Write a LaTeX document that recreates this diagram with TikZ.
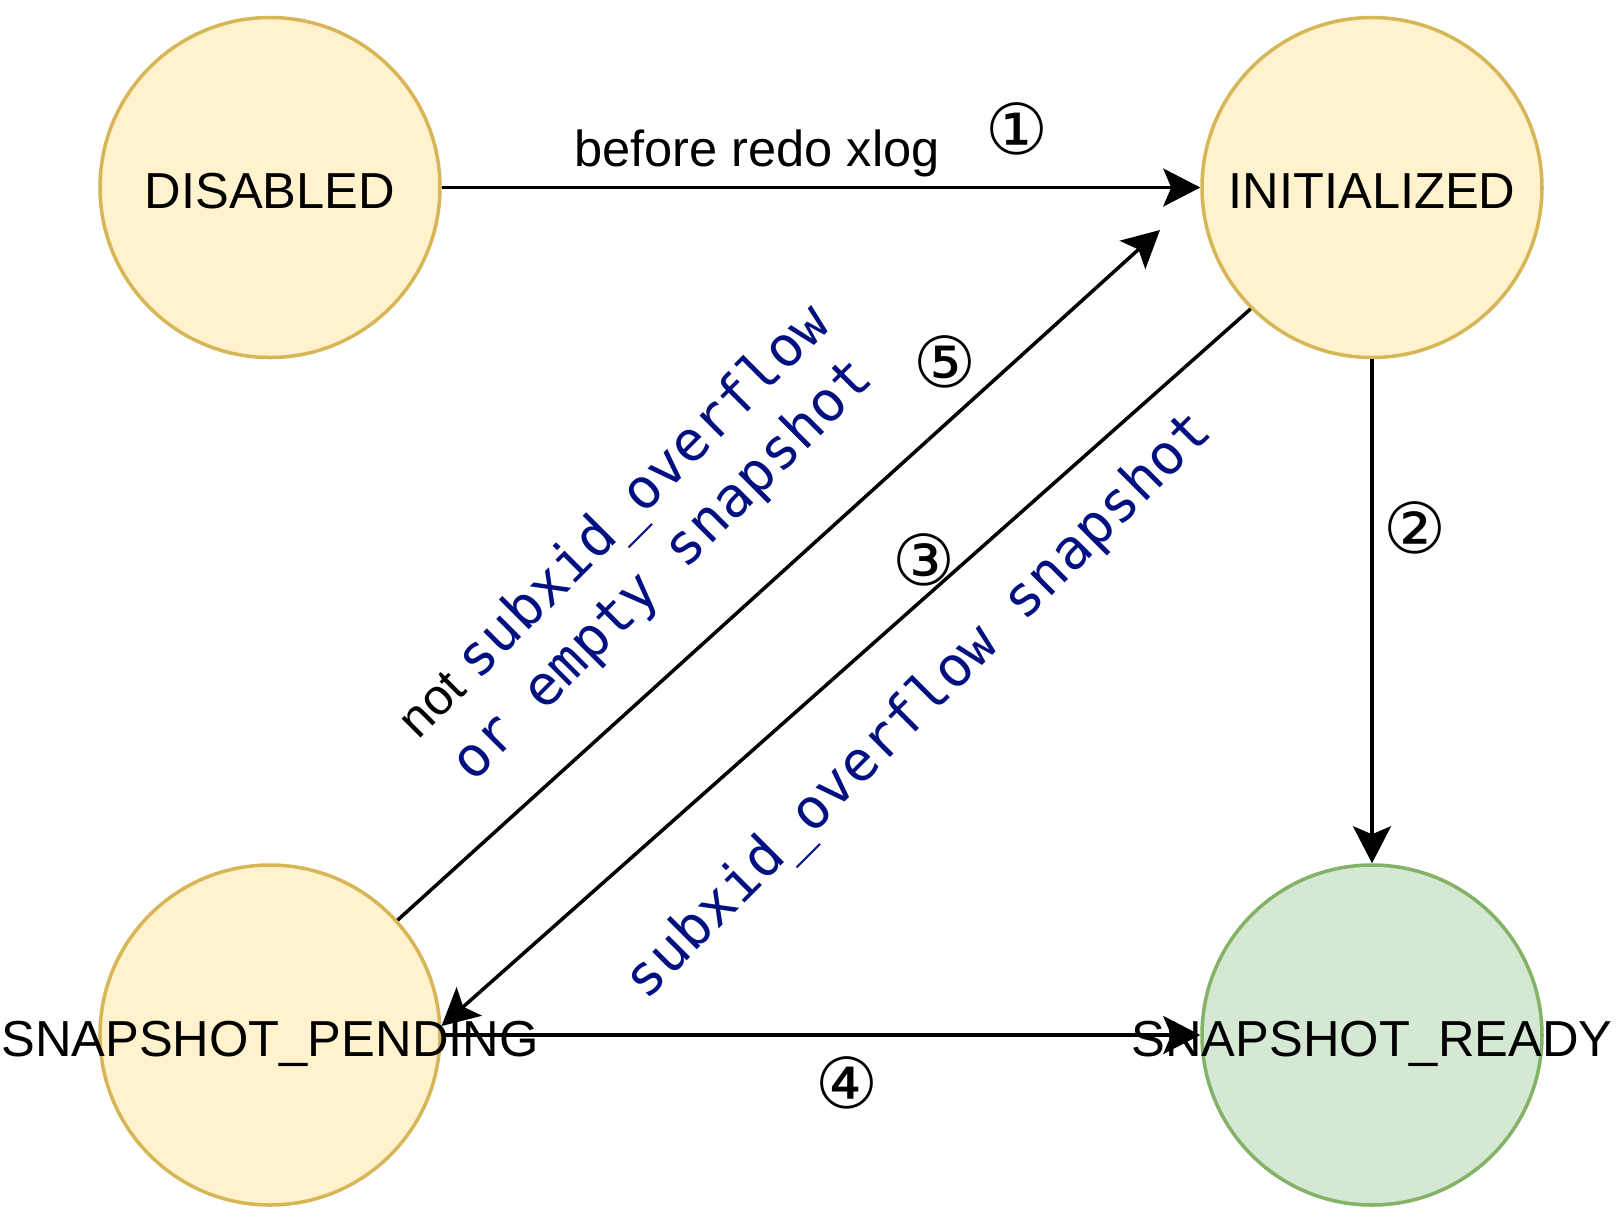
\documentclass[tikz,border=0pt]{standalone}
\usepackage{fontspec}
\setmainfont{Liberation Sans}
\newfontfamily\codefont{DejaVu Sans Mono}
\newfontfamily\numfont{DejaVu Sans}
\usetikzlibrary{arrows.meta}
\definecolor{yellowfill}{HTML}{FFF2CC}
\definecolor{yellowline}{HTML}{D6B656}
\definecolor{greenfill}{HTML}{D5E8D4}
\definecolor{greenline}{HTML}{82B366}
\definecolor{codeblue}{HTML}{001080}
\newcommand\code[1]{{\codefont\fontsize{15.8pt}{19.5pt}\selectfont\color{codeblue}#1}}
\begin{document}
\begin{tikzpicture}[line width=1pt,
    state/.style={circle,draw=yellowline,fill=yellowfill,minimum size=3.4cm,inner sep=0pt},
    ready/.style={state,draw=greenline,fill=greenfill},
    statename/.style={font=\fontsize{14.4pt}{17pt}\selectfont,text height=3.6mm,text depth=0pt,yshift=-0.3mm},
    edgetext/.style={font=\fontsize{14.4pt}{19.5pt}\selectfont},
    num/.style={font=\numfont\fontsize{20pt}{22pt}\selectfont,inner sep=0pt},
    arr/.style={-{Stealth[length=3.7mm,width=3.8mm,inset=0.8mm]}}]
\useasboundingbox (0,0) rectangle (16.24,-12.20);

% states
\node[state,label={[statename]center:DISABLED}] (disabled) at (2.70,-1.875) {};
\node[state,label={[statename]center:INITIALIZED}] (initialized) at (13.72,-1.875) {};
\node[state,label={[statename]center:SNAPSHOT\_PENDING}] (pending) at (2.70,-10.35) {};
\node[ready,label={[statename]center:SNAPSHOT\_READY}] (ready) at (13.72,-10.35) {};
\coordinate (tip5) at (11.60,-2.30);

% transitions
\draw[arr] (disabled) -- (initialized);
\draw[arr] (initialized) -- (ready);
\draw[arr] (initialized.225) -- (pending.3);
\draw[arr] (pending) -- (ready);
\draw[arr] (pending.42) -- (tip5);

% labels
\node[edgetext,anchor=base] (xlog) at (7.57,-1.66) {before redo xlog};
\node[edgetext,rotate=45,align=center] (notover) at (6.39,-5.47)
    {not \code{subxid\_overflow}\\\code{or empty snapshot}};
\node[rotate=45] (over) at (9.20,-7.07) {\code{subxid\_overflow snapshot}};
\node[num] (n1) at (10.17,-1.29) {①};
\node[num] (n2) at (14.15,-5.28) {②};
\node[num] (n3) at (9.24,-5.60) {③};
\node[num] (n4) at (8.47,-10.83) {④};
\node[num] (n5) at (9.45,-3.62) {⑤};
\end{tikzpicture}
\end{document}
